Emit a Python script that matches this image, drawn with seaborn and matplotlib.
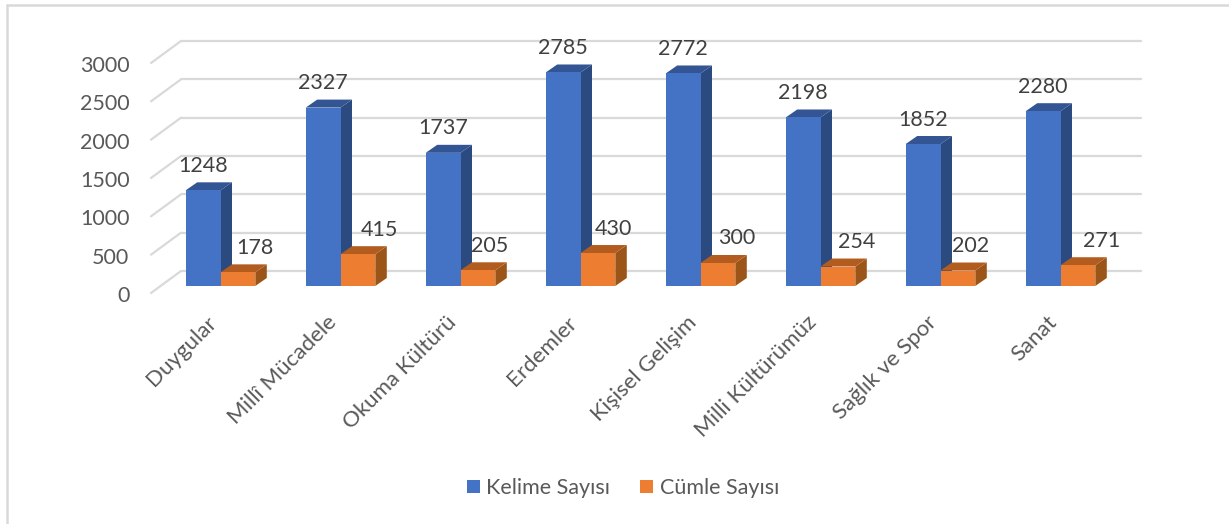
import pandas as pd
import matplotlib
matplotlib.use("Agg")
import matplotlib.pyplot as plt
from matplotlib.patches import Polygon, Rectangle
from matplotlib.transforms import ScaledTranslation
import seaborn as sns

# =========================
# Data
# =========================
categories = ["Duygular", "Millî Mücadele", "Okuma Kültürü", "Erdemler",
              "Kişisel Gelişim", "Milli Kültürümüz", "Sağlık ve Spor", "Sanat"]
kelime = [1248, 2327, 1737, 2785, 2772, 2198, 1852, 2280]
cumle = [178, 415, 205, 430, 300, 254, 202, 271]
y_ticks = [0, 500, 1000, 1500, 2000, 2500, 3000]

df = pd.DataFrame({"Kategori": categories, "Kelime Sayısı": kelime, "Cümle Sayısı": cumle})
df = df.melt(id_vars="Kategori", var_name="Seri", value_name="Deger")

W, H = 1229, 524
DPI = 100

sns.set_theme(style="white")
plt.rcParams["font.family"] = ["Lato", "DejaVu Sans"]

fig = plt.figure(figsize=(W / DPI, H / DPI), dpi=DPI)
# axes box is the plane the bar fronts stand on
ax = fig.add_axes([160.5 / W, 1 - 286 / H, 960 / W, 230 / H])

colors = {"Kelime Sayısı": "#4472C4", "Cümle Sayısı": "#ED7D31"}
sides = {"Kelime Sayısı": "#2B4A80", "Cümle Sayısı": "#9C5519"}
tops = {"Kelime Sayısı": "#335594", "Cümle Sayısı": "#B25C20"}

sns.barplot(data=df, x="Kategori", y="Deger", hue="Seri", palette=colors,
            width=0.58, gap=0, saturation=1, legend=False, ax=ax, zorder=3,
            edgecolor="none", linewidth=0)
ax.set_xlim(-0.5, 7.5)
ax.set_ylim(0, 3000)
sns.despine(ax=ax, left=True, bottom=True)
ax.set_xlabel("")
ax.set_ylabel("")


def px(dx, dy):
    # data position shifted by screen pixels
    return ax.transData + ScaledTranslation(dx / DPI, dy / DPI, fig.dpi_scale_trans)


# =========================
# Back wall grid
# =========================
grid = "#D9D9D9"
for v in y_ticks:
    ax.plot([-0.5, 7.5], [v, v], color=grid, lw=1.6, transform=px(20.5, 15), zorder=1, clip_on=False)
    x0, y0 = ax.transData.transform((-0.5, v))
    diag = plt.Line2D([x0 - 9.5, x0 + 20.5], [y0 - 7, y0 + 15], color=grid, lw=1.6,
                      transform=None, zorder=1, clip_on=False)
    ax.add_artist(diag)

ax.set_xlim(-0.5, 7.5)
ax.set_ylim(0, 3000)
ax.set_yticks(y_ticks)
ax.set_yticklabels([str(v) for v in y_ticks], color="#595959", fontsize=15.5)
ax.tick_params(axis="y", length=0, pad=0)
for lab in ax.get_yticklabels():
    lab.set_transform(ax.get_yaxis_transform() + ScaledTranslation(-31 / DPI, -8 / DPI, fig.dpi_scale_trans))
    lab.set_ha("right")

ax.set_xticks(range(len(categories)))
ax.set_xticklabels(categories, rotation=45, ha="right", rotation_mode="anchor",
                   color="#595959", fontsize=16)
ax.tick_params(axis="x", length=0, pad=19)
for lab in ax.get_xticklabels():
    lab.set_transform(lab.get_transform() + ScaledTranslation(-14 / DPI, 0, fig.dpi_scale_trans))

# =========================
# 3D faces and value labels
# =========================
depth_x, depth_y = 11.5, 8
orange_shift = [17, 22, 12, 16, 19, 19, 13, 24]

for k, (name, container) in enumerate(zip(colors, ax.containers)):
    for i, bar in enumerate(container):
        bar.set_zorder(3 + k * 2)
        xl = bar.get_x()
        xr = xl + bar.get_width()
        h = bar.get_height()
        (lx, by), (rx, ty) = ax.transData.transform([(xl, 0), (xr, h)])
        ax.add_patch(Polygon([(rx, by), (rx + depth_x, by + depth_y), (rx + depth_x, ty + depth_y), (rx, ty)],
                             closed=True, fc=sides[name], ec="none", transform=None, zorder=2.5 + k * 2))
        ax.add_patch(Polygon([(lx, ty), (rx, ty), (rx + depth_x, ty + depth_y), (lx + depth_x, ty + depth_y)],
                             closed=True, fc=tops[name], ec="none", transform=None, zorder=2.5 + k * 2))
        shift = orange_shift[i] if k == 1 else 0
        ax.annotate(str(int(h)), xy=((xl + xr) / 2, h), xytext=(shift * 0.72, 24.5 * 0.72),
                    textcoords="offset points", ha="center", va="center",
                    color="#404040", fontsize=15.5, zorder=9)

# =========================
# Legend and chart border
# =========================
handles = [Rectangle((0, 0), 1, 1, fc=c, ec="none") for c in colors.values()]
fig.legend(handles, list(colors), loc="center", bbox_to_anchor=(623 / W, 1 - 488 / H), ncol=2,
           frameon=False, fontsize=15.5, handlelength=0.6, handleheight=0.6,
           handletextpad=0.3, columnspacing=1.4, labelcolor="#595959")

# border only shows on the top and left, the screenshot cuts the rest
border = "#D9D9D9"
fig.add_artist(plt.Line2D([7 / W, 1], [1 - 5 / H, 1 - 5 / H], color=border, lw=1.8))
fig.add_artist(plt.Line2D([7 / W, 7 / W], [0, 1 - 5 / H], color=border, lw=1.8))

fig.savefig("out.png", dpi=DPI)
